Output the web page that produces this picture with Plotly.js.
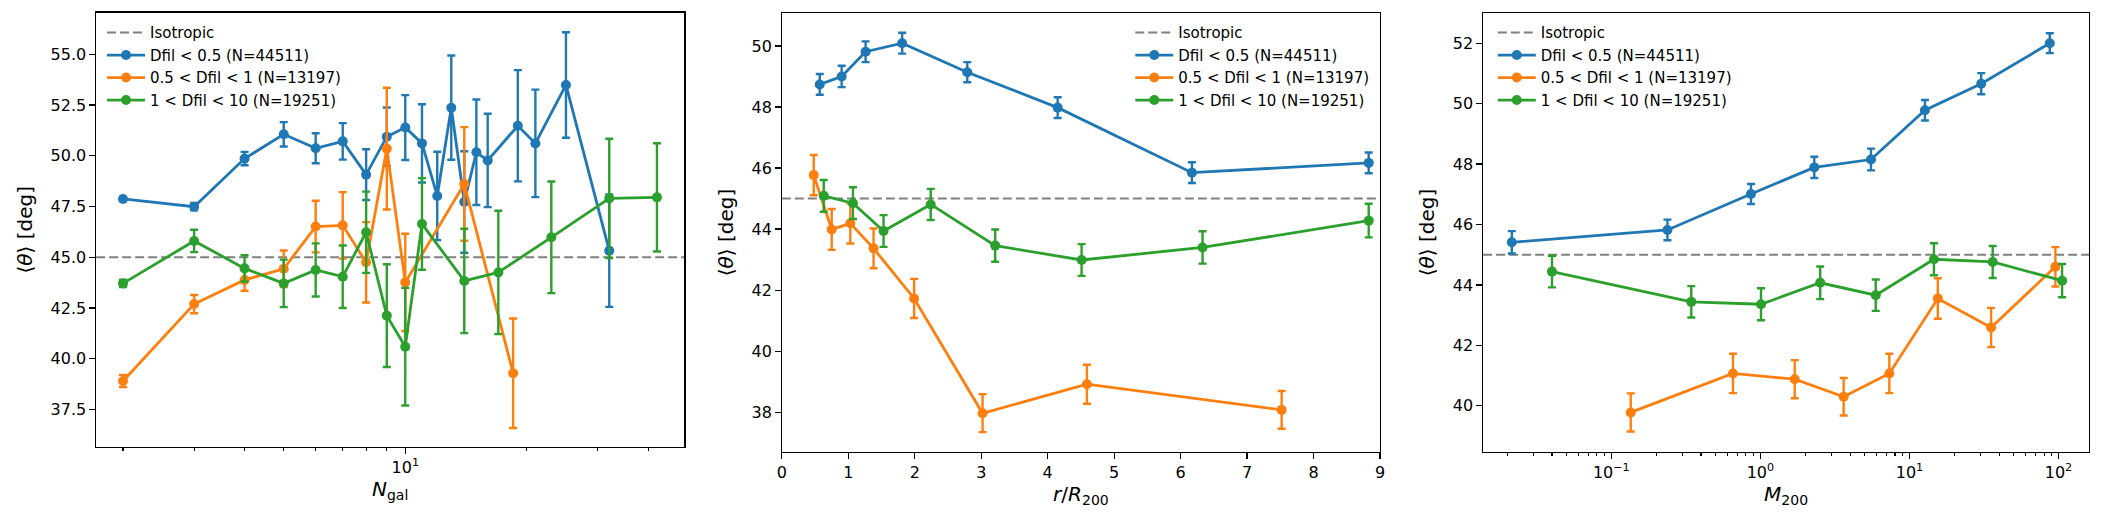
<!DOCTYPE html>
<html>
<head>
<meta charset="utf-8">
<script src="https://cdn.plot.ly/plotly-3.0.1.min.js"></script>
<style>
  html, body { margin: 0; padding: 0; background: #fff; }
  #graf { width: 2104px; height: 525px; }
</style>
</head>
<body>
<div id="graf"></div>
<script>
// panel 1: mean angle vs N_gal
var ngalBlueX = [2, 3, 4, 5, 6, 7, 8, 9, 10, 11, 12, 13, 14, 15, 16, 19, 21, 25, 32];
var ngalBlueY = [47.87, 47.49, 49.86, 51.06, 50.37, 50.71, 49.07, 50.94, 51.39, 50.61, 48.02, 52.37, 47.72, 50.17, 49.77, 51.48, 50.61, 53.49, 45.32];
var ngalBlueE = [0.1, 0.18, 0.33, 0.6, 0.74, 0.9, 1.25, 1.44, 1.6, 1.93, 2.18, 2.57, 2.5, 2.6, 2.3, 2.74, 2.65, 2.6, 2.77];
var ngalOrangeX = [2, 3, 4, 5, 6, 7, 8, 9, 10, 14, 18.5];
var ngalOrangeY = [38.90, 42.69, 43.88, 44.43, 46.51, 46.57, 44.75, 50.35, 43.76, 48.61, 39.28];
var ngalOrangeE = [0.3, 0.45, 0.53, 0.9, 1.27, 1.64, 1.98, 3.0, 2.4, 2.8, 2.7];
var ngalGreenX = [2, 3, 4, 5, 6, 7, 8, 9, 10, 11, 14, 17, 23, 32, 42];
var ngalGreenY = [43.71, 45.80, 44.45, 43.71, 44.37, 44.04, 46.23, 42.12, 40.59, 46.64, 43.83, 44.25, 45.98, 47.90, 47.95];
var ngalGreenE = [0.18, 0.55, 0.65, 1.17, 1.31, 1.54, 2.0, 2.53, 2.9, 2.26, 2.57, 3.04, 2.75, 2.94, 2.67];

// panel 2: mean angle vs r/R200
var rBlueX = [0.57, 0.90, 1.26, 1.81, 2.79, 4.15, 6.17, 8.83];
var rBlueY = [48.74, 49.0, 49.81, 50.09, 49.14, 47.98, 45.85, 46.17];
var rBlueE = [0.34, 0.35, 0.34, 0.34, 0.33, 0.34, 0.34, 0.34];
var rOrangeX = [0.48, 0.75, 1.03, 1.38, 1.99, 3.02, 4.59, 7.52];
var rOrangeY = [45.77, 43.99, 44.19, 43.37, 41.73, 37.97, 38.92, 38.08];
var rOrangeE = [0.66, 0.67, 0.66, 0.65, 0.64, 0.62, 0.64, 0.62];
var rGreenX = [0.63, 1.07, 1.53, 2.24, 3.21, 4.51, 6.33, 8.83];
var rGreenY = [45.09, 44.85, 43.94, 44.81, 43.46, 42.99, 43.40, 44.28];
var rGreenE = [0.52, 0.52, 0.52, 0.51, 0.53, 0.52, 0.53, 0.55];

// panel 3: mean angle vs M200
var mBlueX = [0.0215, 0.238, 0.865, 2.30, 5.52, 12.7, 30.3, 87.4];
var mBlueY = [45.41, 45.82, 47.01, 47.89, 48.15, 49.78, 50.66, 52.0];
var mBlueE = [0.37, 0.34, 0.33, 0.35, 0.36, 0.34, 0.35, 0.33];
var mOrangeX = [0.135, 0.655, 1.70, 3.62, 7.33, 15.5, 35.3, 95.3];
var mOrangeY = [39.78, 41.07, 40.88, 40.30, 41.07, 43.55, 42.59, 44.60];
var mOrangeE = [0.63, 0.65, 0.63, 0.62, 0.65, 0.67, 0.65, 0.65];
var mGreenX = [0.040, 0.344, 1.01, 2.52, 5.94, 14.6, 36.2, 105.7];
var mGreenY = [44.44, 43.44, 43.36, 44.07, 43.66, 44.85, 44.76, 44.14];
var mGreenE = [0.52, 0.52, 0.53, 0.54, 0.52, 0.53, 0.53, 0.55];

var isotropic = 45;
var nazvy = ['Dfil &lt; 0.5 (N=44511)', '0.5 &lt; Dfil &lt; 1 (N=13197)', '1 &lt; Dfil &lt; 10 (N=19251)'];
var farby = ['#1f77b4', '#ff7f0e', '#2ca02c'];

var ngalMinor = [2, 3, 4, 5, 6, 7, 8, 9, 20, 30, 40];
var mMinor = [0.02, 0.03, 0.04, 0.05, 0.06, 0.07, 0.08, 0.09,
              0.2, 0.3, 0.4, 0.5, 0.6, 0.7, 0.8, 0.9,
              2, 3, 4, 5, 6, 7, 8, 9,
              20, 30, 40, 50, 60, 70, 80, 90];

var font = 'DejaVu Sans, sans-serif';

function seria(x, y, e, i, os, leg) {
    return {
        x: x,
        y: y,
        type: 'scatter',
        mode: 'lines+markers',
        name: nazvy[i],
        xaxis: 'x' + os,
        yaxis: 'y' + os,
        legend: leg,
        line: { color: farby[i], width: 2.8 },
        marker: { color: farby[i], size: 10 },
        error_y: { type: 'data', array: e, visible: true, color: farby[i], thickness: 2.4, width: 4 }
    };
}

function izo(os, leg) {
    return {
        x: [null], y: [null],
        type: 'scatter', mode: 'lines',
        name: 'Isotropic',
        xaxis: 'x' + os, yaxis: 'y' + os,
        legend: leg,
        line: { color: 'gray', width: 2, dash: '9px,4px' }
    };
}

var data = [
    izo('', 'legend'),
    seria(ngalBlueX, ngalBlueY, ngalBlueE, 0, '', 'legend'),
    seria(ngalOrangeX, ngalOrangeY, ngalOrangeE, 1, '', 'legend'),
    seria(ngalGreenX, ngalGreenY, ngalGreenE, 2, '', 'legend'),
    izo('2', 'legend2'),
    seria(rBlueX, rBlueY, rBlueE, 0, '2', 'legend2'),
    seria(rOrangeX, rOrangeY, rOrangeE, 1, '2', 'legend2'),
    seria(rGreenX, rGreenY, rGreenE, 2, '2', 'legend2'),
    izo('3', 'legend3'),
    seria(mBlueX, mBlueY, mBlueE, 0, '3', 'legend3'),
    seria(mOrangeX, mOrangeY, mOrangeE, 1, '3', 'legend3'),
    seria(mGreenX, mGreenY, mGreenE, 2, '3', 'legend3')
];

function osX(domain, extra) {
    var a = {
        domain: domain,
        showline: true, mirror: true, linecolor: 'black', linewidth: 1.3,
        ticks: 'outside', ticklen: 5.5, tickwidth: 1.3, tickcolor: 'black',
        showgrid: false, zeroline: false,
        tickfont: { family: font, size: 16, color: 'black' },
        title: { font: { family: font, size: 20, color: 'black' }, standoff: 6 }
    };
    for (var k in extra) a[k] = extra[k];
    return a;
}

function osY(domain, extra) {
    var a = osX(domain, extra);
    a.title.text = '⟨<i>θ</i>⟩ [deg]';
    a.title.standoff = 12;
    return a;
}

function legenda(x) {
    return {
        x: x, y: 0.969, xanchor: 'left', yanchor: 'top',
        xref: 'paper', yref: 'paper',
        bgcolor: 'rgba(255,255,255,0)', borderwidth: 0,
        font: { family: font, size: 15, color: 'black' },
        itemwidth: 38
    };
}

function izoCiara(os) {
    return {
        type: 'line', xref: 'x' + os + ' domain', yref: 'y' + os,
        x0: 0, x1: 1, y0: isotropic, y1: isotropic,
        line: { color: 'gray', width: 2, dash: '9px,4px' },
        layer: 'below'
    };
}

var layout = {
    width: 2104,
    height: 525,
    margin: { l: 0, r: 0, t: 0, b: 0 },
    paper_bgcolor: 'white',
    plot_bgcolor: 'white',
    font: { family: font, color: 'black' },
    showlegend: true,
    xaxis: osX([0.0457, 0.3252], {
        type: 'log', range: [0.2345, 1.6908], anchor: 'y',
        tickmode: 'array', tickvals: [10], ticktext: ['10<sup>1</sup>'],
        minor: { tickmode: 'array', tickvals: ngalMinor, ticks: 'outside', ticklen: 3.3, tickwidth: 1.1, tickcolor: 'black', showgrid: false },
        title: { text: '<i>N</i><sub>gal</sub>', font: { family: font, size: 20, color: 'black' }, standoff: 6 }
    }),
    yaxis: osY([0.1491, 0.9758], {
        range: [35.66, 57.05], anchor: 'x',
        tickmode: 'array', tickvals: [37.5, 40, 42.5, 45, 47.5, 50, 52.5, 55], tickformat: '.1f'
    }),
    xaxis2: osX([0.3716, 0.6559], {
        range: [0, 9], anchor: 'y2', dtick: 1, tick0: 0,
        title: { text: '<i>r</i>/<i>R</i><sub>200</sub>', font: { family: font, size: 20, color: 'black' }, standoff: 6 }
    }),
    yaxis2: osY([0.1396, 0.9747], {
        range: [36.71, 51.07], anchor: 'x2', dtick: 2, tick0: 0
    }),
    xaxis3: osX([0.7049, 0.9929], {
        type: 'log', range: [-1.86, 2.205], anchor: 'y3',
        tickmode: 'array', tickvals: [0.1, 1, 10, 100],
        ticktext: ['10<sup>−1</sup>', '10<sup>0</sup>', '10<sup>1</sup>', '10<sup>2</sup>'],
        minor: { tickmode: 'array', tickvals: mMinor, ticks: 'outside', ticklen: 3.3, tickwidth: 1.1, tickcolor: 'black', showgrid: false },
        title: { text: '<i>M</i><sub>200</sub>', font: { family: font, size: 20, color: 'black' }, standoff: 6 }
    }),
    yaxis3: osY([0.1396, 0.9747], {
        range: [38.48, 52.99], anchor: 'x3', dtick: 2, tick0: 0
    }),
    legend: legenda(0.0485),
    legend2: legenda(0.5372),
    legend3: legenda(0.7095),
    shapes: [izoCiara(''), izoCiara('2'), izoCiara('3')]
};

Plotly.newPlot('graf', data, layout, { staticPlot: true });
</script>
</body>
</html>
